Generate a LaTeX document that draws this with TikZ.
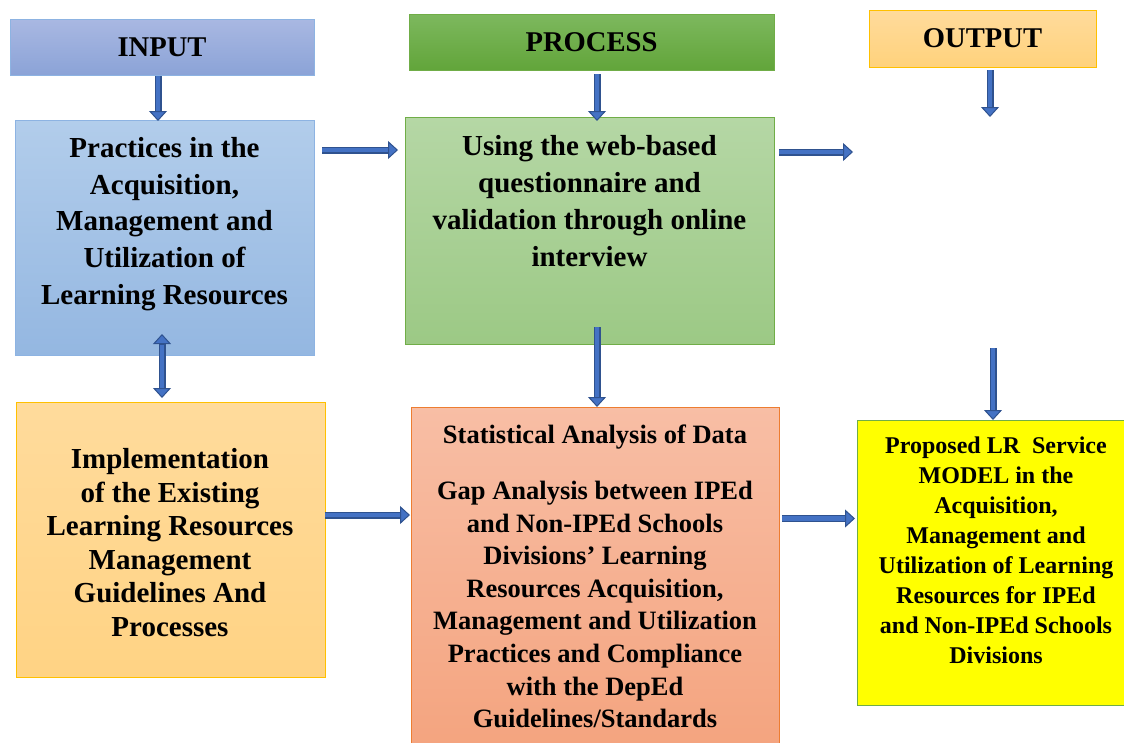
\documentclass[tikz,border=0pt]{standalone}
\usepackage{fontspec}
\setmainfont{Liberation Serif}
\usetikzlibrary{arrows.meta,calc}
\definecolor{arrowfill}{HTML}{4472C4}
\definecolor{arrowdark}{HTML}{2F528F}
\definecolor{inhdrT}{HTML}{A9B8E2}
\definecolor{inhdrB}{HTML}{8BA3D7}
\definecolor{inborder}{HTML}{8DB3E2}
\definecolor{prhdrT}{HTML}{7DB85E}
\definecolor{prhdrB}{HTML}{62A53A}
\definecolor{prborder}{HTML}{70AD47}
\definecolor{outhdrT}{HTML}{FFDB9C}
\definecolor{outhdrB}{HTML}{FFD27C}
\definecolor{goldborder}{HTML}{FFC000}
\definecolor{inoneT}{HTML}{B2CDEB}
\definecolor{inoneB}{HTML}{94B7E1}
\definecolor{proneT}{HTML}{B5D7A5}
\definecolor{proneB}{HTML}{9CC985}
\definecolor{intwoT}{HTML}{FFDB9C}
\definecolor{intwoB}{HTML}{FFD384}
\definecolor{prtwoT}{HTML}{F8BEA5}
\definecolor{prtwoB}{HTML}{F4A47F}
\definecolor{orborder}{HTML}{ED7D31}
\definecolor{pureyellow}{HTML}{FFFF00}
\begin{document}
\begin{tikzpicture}[x=1pt,y=-1pt,
  box/.style={draw, line width=1pt, inner sep=0pt, outer sep=0pt},
  txt/.style={align=center, inner sep=0pt, font=\bfseries},
  blk/.style={draw=arrowdark, line width=7pt,
    -{Triangle[length=10pt,width=18pt,line width=1pt,fill=arrowfill]},
    postaction={draw=arrowfill, line width=4.6pt, -, shorten >=10.5pt}},
  dblk/.style={draw=arrowdark, line width=7pt,
    {Triangle[length=10pt,width=18pt,line width=1pt,fill=arrowfill]}-{Triangle[length=10pt,width=18pt,line width=1pt,fill=arrowfill]},
    postaction={draw=arrowfill, line width=4.6pt, -, shorten >=10.5pt, shorten <=10.5pt}}
]
\useasboundingbox (0,0) rectangle (1124,742);

% header boxes
\node[box, draw=inborder, top color=inhdrT, bottom color=inhdrB,
  minimum width=304pt, minimum height=56pt] (inhdr) at (162,47) {};
\node[txt, font=\fontsize{28.6}{34}\selectfont\bfseries] (inhdrt) at (162,47) {INPUT};
\node[box, draw=prborder, top color=prhdrT, bottom color=prhdrB,
  minimum width=365pt, minimum height=56pt] (prhdr) at (591.5,42) {};
\node[txt, font=\fontsize{28.6}{34}\selectfont\bfseries] (prhdrt) at (591.5,42) {PROCESS};
\node[box, draw=goldborder, top color=outhdrT, bottom color=outhdrB,
  minimum width=227pt, minimum height=57pt] (outhdr) at (982.5,38.5) {};
\node[txt, font=\fontsize{28.6}{34}\selectfont\bfseries] (outhdrt) at (982.5,38.5) {OUTPUT};

% content boxes
\node[box, draw=inborder, top color=inoneT, bottom color=inoneB,
  minimum width=299pt, minimum height=235pt] (in1) at (164.5,237.5) {};
\node[txt, font=\fontsize{29}{36.75}\selectfont\bfseries] (in1t) at (164.5,224)
  {Practices in the\\Acquisition,\\Management and\\Utilization of\\Learning Resources};

\node[box, draw=prborder, top color=proneT, bottom color=proneB,
  minimum width=369pt, minimum height=227pt] (pr1) at (589.5,230.5) {};
\node[txt, font=\fontsize{29}{37}\selectfont\bfseries] (pr1t) at (589.5,201)
  {Using the web-based\\questionnaire and\\validation through online\\interview};

\node[box, draw=goldborder, top color=intwoT, bottom color=intwoB,
  minimum width=309pt, minimum height=275pt] (in2) at (170.5,539.5) {};
\node[txt, font=\fontsize{29}{33.6}\selectfont\bfseries] (in2t) at (170,542.5)
  {Implementation\\of the Existing\\Learning Resources\\Management\\Guidelines And\\Processes};

\node[box, draw=orborder, top color=prtwoT, bottom color=prtwoB,
  minimum width=368pt, minimum height=340pt] (pr2) at (595,577) {};
\node[txt, font=\fontsize{26.5}{32.6}\selectfont\bfseries] (pr2s) at (595,437.5)
  {Statistical Analysis of Data};
\node[txt, font=\fontsize{26.5}{32.6}\selectfont\bfseries] (pr2t) at (595,604.5)
  {Gap Analysis between IPEd\\and Non-IPEd Schools\\Divisions’ Learning\\Resources Acquisition,\\Management and Utilization\\Practices and Compliance\\with the DepEd\\Guidelines/Standards};

\node[box, draw=prborder, fill=pureyellow,
  minimum width=270pt, minimum height=285pt] (out) at (992,562.5) {};
\node[txt, font=\fontsize{24}{30}\selectfont\bfseries] (outt) at (996,550)
  {Proposed LR\ \ Service\\MODEL in the\\Acquisition,\\Management and\\Utilization of Learning\\Resources for IPEd\\and Non-IPEd Schools\\Divisions};

% free ends
\coordinate (pr1out) at (853,152);
\coordinate (outhdrend) at (990,117);
\coordinate (outstart) at (993,348);

% arrows
\draw[blk] ([xshift=-4pt,yshift=-1pt]inhdr.south) -- ([xshift=-4pt,yshift=-1pt]inhdr.south |- in1.north);
\draw[blk] ([xshift=5.5pt,yshift=-4pt]prhdr.south) -- ([xshift=5.5pt,yshift=-4pt]prhdr.south |- pr1.north);
\draw[blk] ([xshift=7.5pt,yshift=-3pt]outhdr.south) -- (outhdrend);
\draw[blk] ([xshift=8pt,yshift=-30pt]in1.north east) -- ([xshift=-7pt,yshift=-30pt]in1.north east -| pr1.west);
\draw[blk] ([xshift=5pt,yshift=-35pt]pr1.north east) -- (pr1out);
\draw[dblk] ([xshift=-2.5pt,yshift=21pt]in1.south) -- ([xshift=-2.5pt,yshift=4pt]in1.south |- in2.north);
\draw[blk] ([xshift=7.5pt,yshift=17pt]pr1.south) -- ([xshift=7.5pt]pr1.south |- pr2.north);
\draw[blk] (outstart) -- (outstart |- out.north);
\draw[blk] ([yshift=24.5pt]in2.east) -- ([xshift=-1pt,yshift=24.5pt]in2.east -| pr2.west);
\draw[blk] ([xshift=3pt,yshift=58.5pt]pr2.east) -- ([xshift=-2pt,yshift=58.5pt]pr2.east -| out.west);
\end{tikzpicture}
\end{document}
